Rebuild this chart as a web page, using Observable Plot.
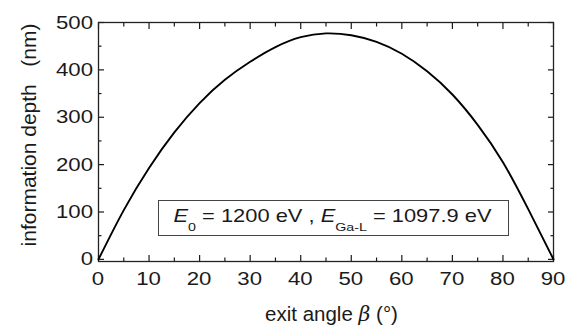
<!DOCTYPE html>
<html>
<head>
<meta charset="utf-8">
<script src="https://cdn.jsdelivr.net/npm/d3@7"></script>
<script src="https://cdn.jsdelivr.net/npm/@observablehq/plot@0.6"></script>
<style>
  html, body { margin: 0; padding: 0; background: #fff; }
  #chart svg { display: block; }
</style>
</head>
<body>
<div id="chart"></div>
<script>
// exit angle β (degrees)
const angles = [0, 5, 10, 15, 20, 25, 30, 35, 40, 45, 50, 55, 60, 65, 70, 75, 80, 85, 90];
// information depth (nm)
const depths = [0, 104, 193, 268, 330, 379, 417, 448, 469, 477, 473, 459, 434, 397, 348, 284, 205, 106, 0];

const xMajor = [0, 10, 20, 30, 40, 50, 60, 70, 80, 90];
const xMinor = [5, 15, 25, 35, 45, 55, 65, 75, 85];
const yMajor = [0, 100, 200, 300, 400, 500];
const yMinor = [50, 150, 250, 350, 450];

const xLabel = ["exit angle ", "β", " (°)"];
const yLabel = "information depth   (nm)";
const annotation = [
  ["E", "italic", false], ["0", "normal", true], [" = 1200 eV , ", "normal", false],
  ["E", "italic", false], ["Ga-L", "normal", true], [" = 1097.9 eV", "normal", false]
];

const data = angles.map((a, i) => ({angle: a, depth: depths[i]}));

const FONT = "'Liberation Sans', Arial, Helvetica, sans-serif";
const INK = "#1a1a1a";
const TICK_STRETCH = 1.2;   // numerals are drawn wide in the original
const TICK_FONT = 18.5;
const NOTE_STRETCH = 1.25;
const NOTE_FONT = 17.5;

function texts(index, scales, values, dim) {
  const {width, height, marginLeft, marginRight, marginTop, marginBottom} = dim;
  const g = d3.create("svg:g").attr("font-family", FONT).attr("fill", INK);
  const fx = marginLeft + (width - marginLeft - marginRight) / 2;
  const fBottom = height - marginBottom;

  // x tick labels
  for (const v of xMajor) {
    g.append("text")
      .attr("transform", `translate(${scales.x(v)},${fBottom + 24}) scale(${TICK_STRETCH},1)`)
      .attr("text-anchor", "middle").attr("font-size", TICK_FONT).text(v);
  }
  // y tick labels
  for (const v of yMajor) {
    g.append("text")
      .attr("transform", `translate(${marginLeft - 5},${scales.y(v) + 6.6}) scale(${TICK_STRETCH},1)`)
      .attr("text-anchor", "end").attr("font-size", TICK_FONT).text(v);
  }

  // x label
  const xt = g.append("text").attr("x", fx + 6).attr("y", height - 4.5)
    .attr("text-anchor", "middle").attr("font-size", 20.5);
  xLabel.forEach((s, i) => xt.append("tspan").text(s)
    .attr("font-style", i === 1 ? "italic" : "normal")
    .attr("font-family", i === 1 ? "'DejaVu Serif', serif" : FONT));

  // y label
  g.append("text").attr("transform", `translate(${marginLeft - 62.5},${marginTop + 113}) rotate(-90)`)
    .attr("text-anchor", "middle").attr("font-size", 21)
    .style("white-space", "pre").text(yLabel);

  // annotation box
  const bx = fx + 8, by = marginTop + 196;
  g.append("rect").attr("x", bx - 175).attr("y", by - 17.5).attr("width", 350).attr("height", 35)
    .attr("fill", "white").attr("stroke", "#444").attr("stroke-width", 1);
  const at = g.append("text")
    .attr("transform", `translate(${bx - 1},${by + 4.3}) scale(${NOTE_STRETCH},1)`)
    .attr("text-anchor", "middle").attr("font-size", NOTE_FONT);
  annotation.forEach(([s, style, sub], i) => {
    const ts = at.append("tspan").text(s).attr("font-style", style);
    if (sub) ts.attr("font-size", 11.4).attr("dy", 8.5);
    else if (i > 0 && annotation[i - 1][2]) ts.attr("dy", -8.5);
  });
  return g.node();
}

const chart = Plot.plot({
  width: 574,
  height: 325,
  marginLeft: 98,
  marginRight: 21,
  marginTop: 22,
  marginBottom: 64,
  style: {fontFamily: FONT, fontSize: "17px", color: INK, background: "white"},
  x: {domain: [0, 90]},
  y: {domain: [-4.5, 500]},
  marks: [
    // inward ticks on all four sides
    Plot.axisX({anchor: "bottom", ticks: xMajor, tickSize: -6, text: null, label: null, strokeWidth: 1.2}),
    Plot.axisX({anchor: "bottom", ticks: xMinor, tickSize: -3.5, text: null, label: null, strokeWidth: 1.2}),
    Plot.axisX({anchor: "top", ticks: xMajor, tickSize: -6, text: null, label: null, strokeWidth: 1.2}),
    Plot.axisX({anchor: "top", ticks: xMinor, tickSize: -3.5, text: null, label: null, strokeWidth: 1.2}),
    Plot.axisY({anchor: "left", ticks: yMajor, tickSize: -6, text: null, label: null, strokeWidth: 1.2}),
    Plot.axisY({anchor: "left", ticks: yMinor, tickSize: -3.5, text: null, label: null, strokeWidth: 1.2}),
    Plot.axisY({anchor: "right", ticks: yMajor, tickSize: -6, text: null, label: null, strokeWidth: 1.2}),
    Plot.axisY({anchor: "right", ticks: yMinor, tickSize: -3.5, text: null, label: null, strokeWidth: 1.2}),
    Plot.frame({stroke: "#222", strokeWidth: 1.3}),
    Plot.line(data, {x: "angle", y: "depth", curve: "natural", stroke: "#000", strokeWidth: 1.9}),
    texts
  ]
});

document.getElementById("chart").appendChild(chart);
</script>
</body>
</html>
